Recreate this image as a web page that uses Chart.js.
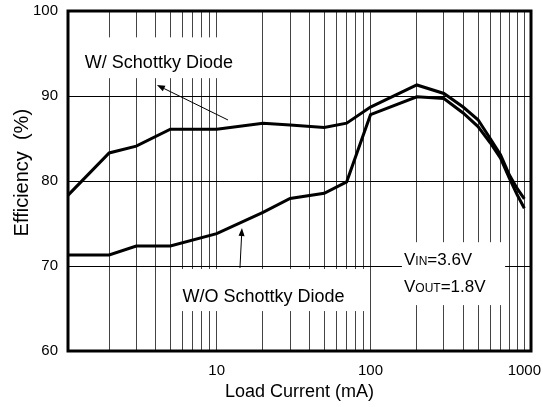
<!DOCTYPE html>
<html>
<head>
<meta charset="utf-8">
<script src="https://cdn.jsdelivr.net/npm/chart.js@4/dist/chart.umd.min.js"></script>
<style>
  html, body { margin: 0; padding: 0; background: #fff; }
</style>
</head>
<body>
<canvas id="myChart" width="543" height="407"></canvas>
<script>
// load current (mA) and efficiency (%) for both configurations
const loadCurrent = [1, 2, 3, 5, 10, 20, 30, 50, 70, 100, 200, 300, 400, 500, 600, 700, 800, 900, 1000];
const effSchottky = [77.7, 83.3, 84.1, 86.1, 86.1, 86.8, 86.6, 86.3, 86.8, 88.7, 91.3, 90.3, 88.7, 87.2, 85.0, 83.1, 80.7, 79.1, 77.9];
const effNoSchottky = [71.3, 71.3, 72.35, 72.35, 73.8, 76.3, 77.95, 78.55, 79.9, 87.8, 89.9, 89.7, 88.0, 86.4, 84.5, 82.7, 80.3, 78.35, 76.8];

const xTickLabels = [10, 100, 1000];
const yTickValues = [60, 70, 80, 90, 100];

// log grid: 2..9 in every decade, plus the decade lines
const decades = [1, 10, 100];
const gridValues = [];
decades.forEach(d => { for (let k = 1; k <= 9; k++) gridValues.push(k * d); });
gridValues.push(1000);

const FONT = '"Liberation Sans", Arial, Helvetica, sans-serif';
Chart.defaults.font.family = FONT;
Chart.defaults.color = '#000';

// white label boxes that cut through the grid (data coordinates)
const labelBoxes = [
  { x0: 1.33, x1: 15.0, y0: 96.9, y1: 92.1 },
  { x0: 5.6, x1: 93.5, y0: 69.65, y1: 64.7 },
  { x0: 160, x1: 750, y0: 72.8, y1: 65.4 }
];

// text runs; 'sub' parts are drawn smaller on the same baseline
const labelTexts = [
  { x: 1.39, y: 93.26, size: 18, parts: [['W/ Schottky Diode', false]] },
  { x: 6.0, y: 65.8, size: 18, parts: [['W/O Schottky Diode', false]] },
  { x: 165, y: 70.12, size: 17, parts: [['V', false], ['IN', true], ['=3.6V', false]] },
  { x: 165, y: 66.98, size: 17, parts: [['V', false], ['OUT', true], ['=1.8V', false]] }
];

// callout arrows: from tail to head
const arrows = [
  { x0: 11.84, y0: 87.18, x1: 4.09, y1: 91.29 },
  { x0: 14.17, y0: 69.76, x1: 14.6, y1: 74.47 }
];

const notesPlugin = {
  id: 'notes',
  beforeDatasetsDraw(chart) {
    const { ctx } = chart;
    const xs = chart.scales.x, ys = chart.scales.y;
    ctx.save();
    ctx.fillStyle = '#fff';
    labelBoxes.forEach(b => {
      const x0 = xs.getPixelForValue(b.x0), x1 = xs.getPixelForValue(b.x1);
      const y0 = ys.getPixelForValue(b.y0), y1 = ys.getPixelForValue(b.y1);
      ctx.fillRect(x0, y0, x1 - x0, y1 - y0);
    });
    ctx.fillStyle = '#000';
    ctx.textBaseline = 'alphabetic';
    ctx.textAlign = 'left';
    labelTexts.forEach(t => {
      let x = xs.getPixelForValue(t.x);
      const y = ys.getPixelForValue(t.y);
      t.parts.forEach(([str, sub]) => {
        ctx.font = (sub ? Math.round(t.size * 0.68) : t.size) + 'px ' + FONT;
        ctx.fillText(str, x, y);
        x += ctx.measureText(str).width;
      });
    });
    ctx.restore();
  },
  afterDatasetsDraw(chart) {
    const { ctx, chartArea } = chart;
    const xs = chart.scales.x, ys = chart.scales.y;
    ctx.save();
    ctx.strokeStyle = '#000';
    ctx.fillStyle = '#000';
    ctx.lineWidth = 1;
    arrows.forEach(a => {
      const x0 = xs.getPixelForValue(a.x0), y0 = ys.getPixelForValue(a.y0);
      const x1 = xs.getPixelForValue(a.x1), y1 = ys.getPixelForValue(a.y1);
      const ang = Math.atan2(y1 - y0, x1 - x0);
      const len = 8, half = 3;
      const bx = x1 - len * Math.cos(ang), by = y1 - len * Math.sin(ang);
      ctx.beginPath();
      ctx.moveTo(x0, y0);
      ctx.lineTo(bx, by);
      ctx.stroke();
      ctx.beginPath();
      ctx.moveTo(x1, y1);
      ctx.lineTo(bx + half * Math.sin(ang), by - half * Math.cos(ang));
      ctx.lineTo(bx - half * Math.sin(ang), by + half * Math.cos(ang));
      ctx.closePath();
      ctx.fill();
    });
    // heavy frame round the plot
    ctx.lineWidth = 3;
    ctx.strokeRect(chartArea.left, chartArea.top, chartArea.right - chartArea.left, chartArea.bottom - chartArea.top);
    ctx.restore();
  }
};

const data = {
  labels: loadCurrent,
  datasets: [
    {
      label: 'W/ Schottky Diode',
      data: loadCurrent.map((x, i) => ({ x, y: effSchottky[i] })),
      borderColor: '#000',
      borderWidth: 3,
      pointRadius: 0,
      tension: 0
    },
    {
      label: 'W/O Schottky Diode',
      data: loadCurrent.map((x, i) => ({ x, y: effNoSchottky[i] })),
      borderColor: '#000',
      borderWidth: 3,
      pointRadius: 0,
      tension: 0
    }
  ]
};

const config = {
  type: 'line',
  data: data,
  options: {
    responsive: false,
    animation: false,
    devicePixelRatio: 1,
    layout: { padding: { top: 11, right: 12, left: 0, bottom: 0 } },
    plugins: {
      legend: { display: false },
      tooltip: { enabled: false }
    },
    scales: {
      x: {
        type: 'logarithmic',
        min: 1.08,
        max: 1105,
        afterBuildTicks: scale => {
          scale.ticks = gridValues
            .filter(v => v > scale.min && v < scale.max)
            .map(v => ({ value: v }));
        },
        afterFit: scale => {
          scale.height = 56;
          scale.paddingLeft = 0;
          scale.paddingRight = 0;
        },
        ticks: {
          autoSkip: false,
          maxRotation: 0,
          padding: 11,
          font: { size: 15 },
          callback: v => (xTickLabels.includes(v) ? String(v) : '')
        },
        grid: { color: '#444', lineWidth: 1, drawTicks: false },
        border: { display: false },
        title: {
          display: true,
          text: 'Load Current (mA)',
          font: { size: 18 },
          padding: { top: 0, bottom: 4 }
        }
      },
      y: {
        min: 60,
        max: 100,
        afterBuildTicks: scale => {
          scale.ticks = yTickValues.map(v => ({ value: v }));
        },
        afterFit: scale => {
          scale.width = 68;
          scale.paddingTop = 0;
          scale.paddingBottom = 0;
        },
        ticks: { padding: 10, font: { size: 15 } },
        grid: { color: '#000', lineWidth: 1, drawTicks: false },
        border: { display: false },
        title: {
          display: true,
          text: '   Efficiency  (%)',
          font: { size: 20 },
          padding: { top: 10, bottom: 0 }
        }
      }
    }
  },
  plugins: [notesPlugin]
};

const myChart = new Chart(document.getElementById('myChart'), config);
</script>
</body>
</html>
